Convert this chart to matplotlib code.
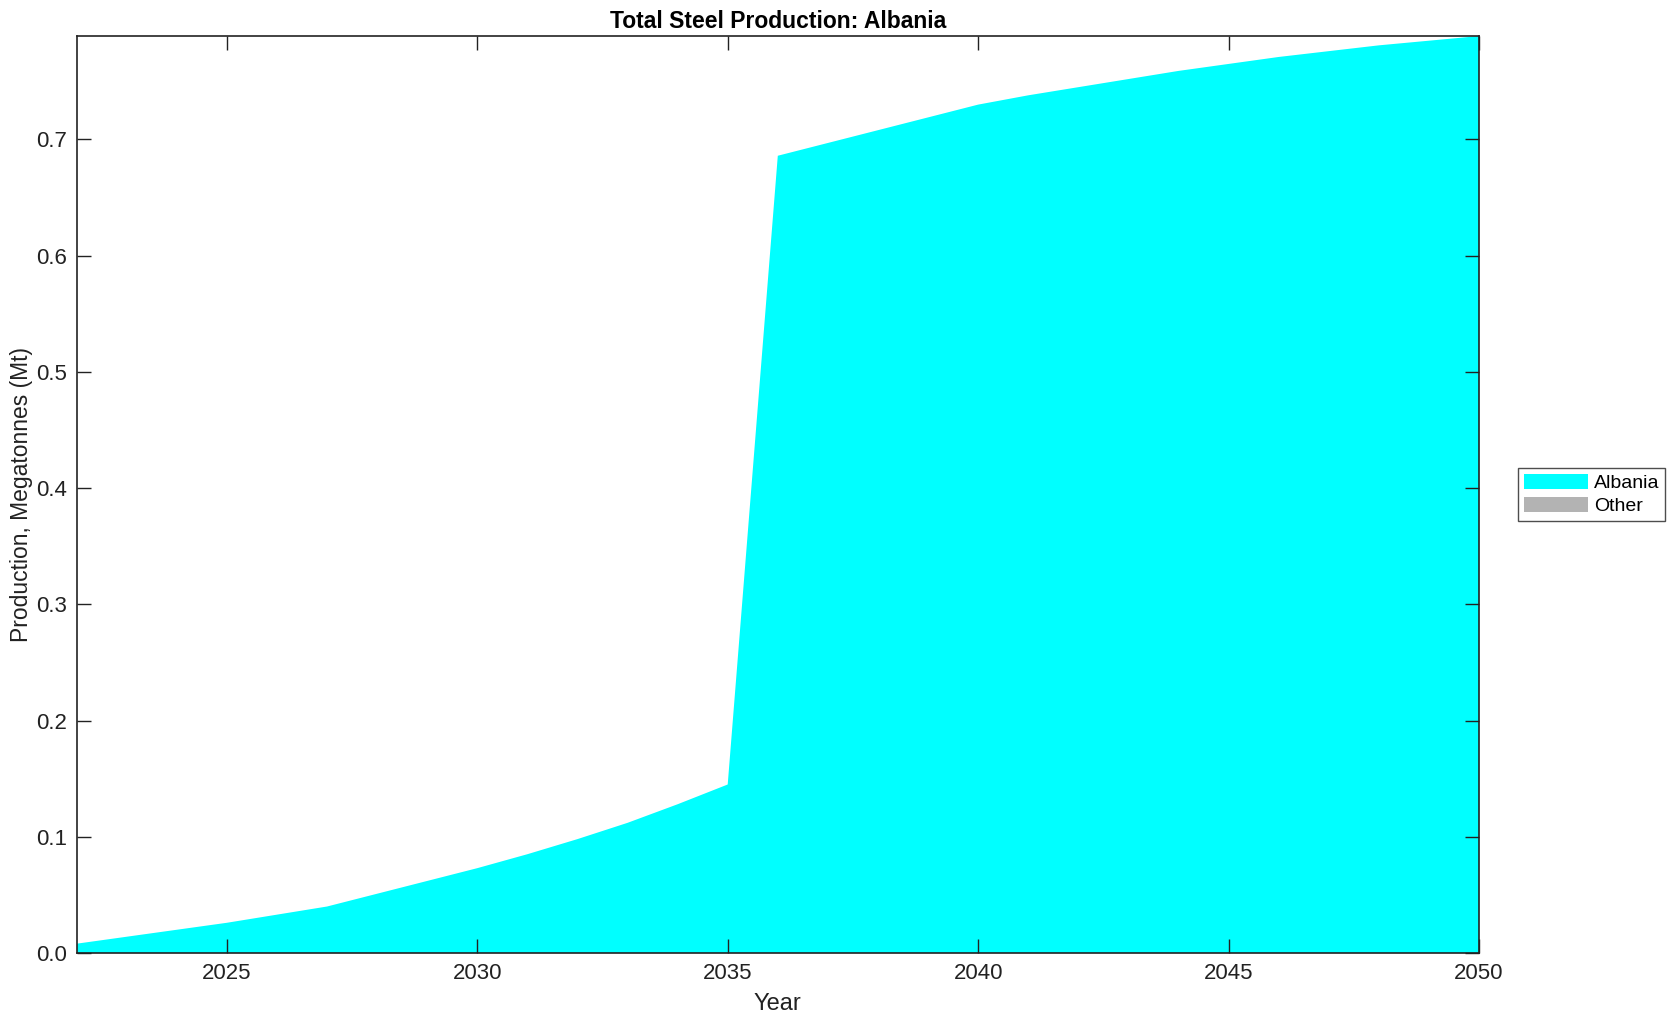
import numpy as np
import matplotlib
matplotlib.use("Agg")
import matplotlib.pyplot as plt

plt.rcParams['font.family'] = ['Liberation Sans', 'DejaVu Sans']

years = list(range(2022, 2051))
albania = [0.008, 0.014, 0.020, 0.026, 0.033, 0.040, 0.051, 0.062, 0.073,
           0.085, 0.098, 0.112, 0.128, 0.145, 0.686, 0.697, 0.708, 0.719,
           0.730, 0.738, 0.745, 0.752, 0.759, 0.765, 0.771, 0.776, 0.781,
           0.785, 0.789]
other = [0.0] * len(years)
labels = ['Albania', 'Other']
colors = ['#00ffff', '#b3b3b3']

fig = plt.figure(figsize=(16.79, 10.21), dpi=100)
ax = fig.add_axes([0.0456, 0.0666, 0.8353, 0.8981])

ax.stackplot(years, albania, other, labels=labels, colors=colors, linewidth=0)

ax.set_xlim(2022, 2050)
ax.set_ylim(0, max(albania))
ax.set_xticks(range(2025, 2051, 5))
ax.set_yticks(np.arange(0, 0.71, 0.1))
ax.yaxis.set_major_formatter(matplotlib.ticker.FormatStrFormatter('%.1f'))
ax.tick_params(direction='in', length=10, width=1, labelsize=16, pad=7,
               top=True, right=True, colors='#222222', labelcolor='#222222')
for s in ax.spines.values():
    s.set_linewidth(1.2)
    s.set_color('#222222')

ax.set_title('Total Steel Production: Albania', fontsize=16.5, fontweight='bold', pad=6)
ax.set_xlabel('Year', fontsize=17, color='#222222', labelpad=7)
ax.set_ylabel('Production, Megatonnes (Mt)', fontsize=16.5, color='#222222', labelpad=2)

leg = ax.legend(loc='center left', bbox_to_anchor=(1.021, 0.5), fontsize=14,
                frameon=True, fancybox=False, edgecolor='#222222',
                handlelength=3.3, handleheight=0.8, borderpad=0.3,
                labelspacing=0.25, handletextpad=0.3)
leg.get_frame().set_linewidth(1.0)

plt.savefig('out.png', dpi=100)
